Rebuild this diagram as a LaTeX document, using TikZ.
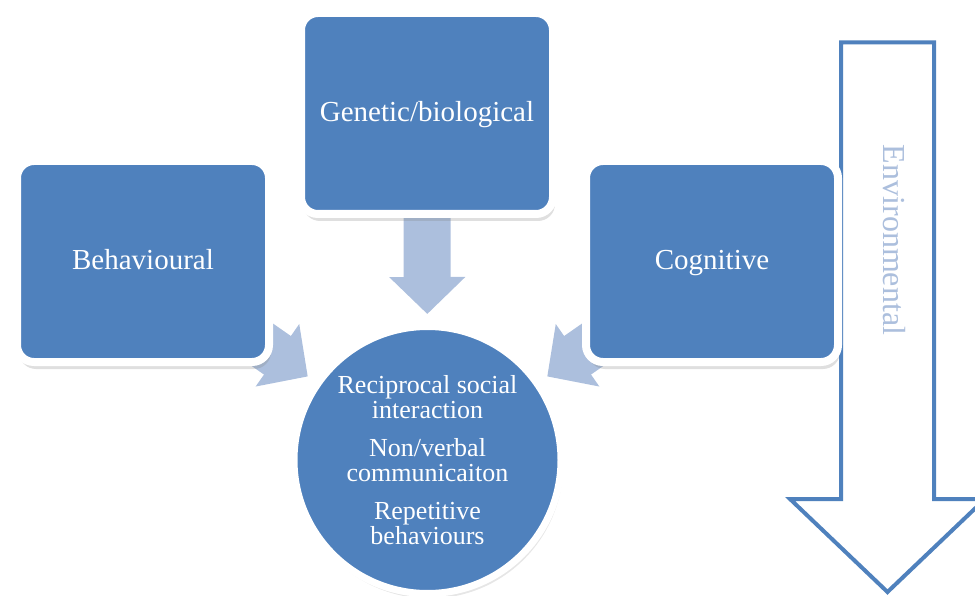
\documentclass[tikz,border=0pt]{standalone}
\usepackage{fontspec}
\setmainfont{Liberation Serif}
\usetikzlibrary{arrows.meta,shadows,backgrounds}
\definecolor{boxblue}{RGB}{79,129,189}
\definecolor{flowblue}{RGB}{172,191,221}

\begin{document}
\begin{tikzpicture}[x=1pt,y=-1pt,
  box/.style={draw=white,line width=8pt,fill=boxblue,rounded corners=17pt,minimum width=252pt,minimum height=201pt,
    text=white,font=\fontsize{29}{34}\selectfont,text height=20pt,text depth=3.8pt,
    drop shadow={opacity=0.25,shadow xshift=2pt,shadow yshift=-7pt}},
  hub/.style={circle,draw=white,line width=7pt,fill=boxblue,minimum size=267pt,inner sep=0pt,
    text=white,align=center,font=\fontsize{26}{25}\selectfont,drop shadow={opacity=0.2,shadow xshift=2pt,shadow yshift=-5pt}},
  flow/.style={draw=flowblue,line width=47pt,-{Triangle[width=74pt,length=37pt]},shorten >=9pt}]
  \useasboundingbox (0,0) rectangle (975,596);
  \clip (0,0) rectangle (975,596);

  \draw[line width=4pt,draw=boxblue,fill=white] (841,42.5) -- (934,42.5) -- (934,499) -- (985,499)
    -- (887.5,592) -- (790,499) -- (841,499) -- cycle;
  \node[rotate=-90,text=flowblue,font=\fontsize{32}{36}\selectfont] (env) at (894,240) {Environmental};

  \node[hub]  (circ)  at (427.5,460) {Reciprocal social\\interaction\\[13pt]Non/verbal\\communicaiton\\[13pt]Repetitive\\behaviours};
  \node[box]  (gen)   at (427,113.5) {Genetic/biological};
  \node[box]  (behav) at (143,261.5) {Behavioural};
  \node[box]  (cog)   at (712,261.5) {Cognitive};

  \begin{pgfonlayer}{background}
    \draw[flow] (gen.center) -- (circ);
    \draw[flow] (behav.center) -- (circ);
    \draw[flow] (cog.center) -- (circ);
  \end{pgfonlayer}
\end{tikzpicture}
\end{document}
